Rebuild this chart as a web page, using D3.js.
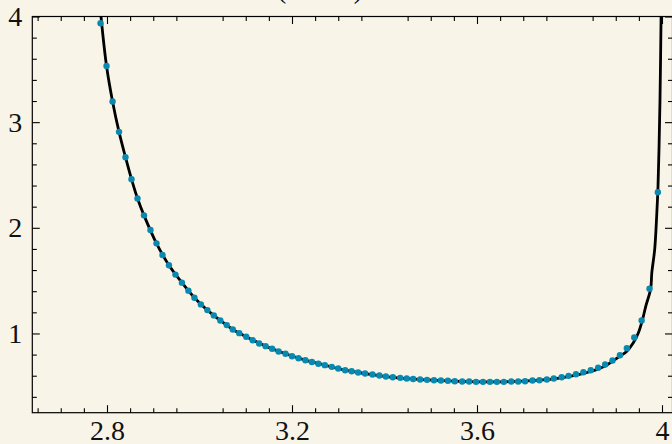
<!doctype html>
<html>
<head>
    <style>
        body { margin: 0; background: #f8f5e8; }
        svg { display: block; background: #f8f5e8; }
        .tick text { font-family: "Liberation Serif", "DejaVu Serif", serif; font-size: 28px; fill: #111; }
        .tick line { stroke: #000; stroke-width: 1.1; }
    </style>
    <script src="https://cdn.jsdelivr.net/npm/d3@7"></script>
</head>
<body>
    <svg width="672" height="444"></svg>
    <script>
        // sampled points (blue dots)
        var dotX = [2.786, 2.799, 2.812, 2.826, 2.840, 2.853, 2.866, 2.880, 2.894, 2.907,
                    2.920, 2.934, 2.948, 2.962, 2.976, 2.989, 3.003, 3.017, 3.031, 3.045,
                    3.059, 3.072, 3.086, 3.101, 3.115, 3.129, 3.143, 3.157, 3.171, 3.186,
                    3.200, 3.214, 3.229, 3.243, 3.257, 3.271, 3.286, 3.300, 3.315, 3.329,
                    3.343, 3.358, 3.374, 3.389, 3.403, 3.418, 3.434, 3.448, 3.462, 3.477,
                    3.492, 3.507, 3.522, 3.537, 3.552, 3.568, 3.583, 3.598, 3.613, 3.628,
                    3.643, 3.658, 3.674, 3.689, 3.704, 3.720, 3.735, 3.751, 3.766, 3.783,
                    3.798, 3.814, 3.830, 3.846, 3.862, 3.877, 3.893, 3.909, 3.924, 3.940,
                    3.956, 3.973, 3.991];
        var dotY = [3.936, 3.531, 3.196, 2.908, 2.668, 2.460, 2.277, 2.118, 1.979, 1.853,
                    1.742, 1.645, 1.557, 1.481, 1.405, 1.338, 1.275, 1.221, 1.171, 1.123,
                    1.079, 1.038, 1.003, 0.969, 0.936, 0.905, 0.880, 0.855, 0.829, 0.808,
                    0.785, 0.766, 0.747, 0.730, 0.714, 0.700, 0.684, 0.668, 0.652, 0.643,
                    0.630, 0.621, 0.611, 0.602, 0.592, 0.586, 0.580, 0.573, 0.569, 0.564,
                    0.561, 0.557, 0.555, 0.552, 0.548, 0.545, 0.545, 0.542, 0.542, 0.542,
                    0.542, 0.542, 0.545, 0.545, 0.548, 0.555, 0.557, 0.564, 0.573, 0.586,
                    0.599, 0.614, 0.633, 0.652, 0.675, 0.706, 0.744, 0.794, 0.861, 0.962,
                    1.123, 1.424, 2.336];

        // black curve
        var lineX = [2.787, 2.799, 2.812, 2.826, 2.840, 2.853, 2.866, 2.880, 2.907, 2.934,
                     2.962, 2.989, 3.017, 3.045, 3.072, 3.101, 3.143, 3.186, 3.229, 3.271,
                     3.315, 3.358, 3.403, 3.448, 3.492, 3.537, 3.583, 3.628, 3.674, 3.720,
                     3.766, 3.814, 3.846, 3.877, 3.909, 3.924, 3.938, 3.949, 3.958, 3.965,
                     3.9755, 3.978, 3.9842, 3.9885, 3.9914, 3.9935, 3.9957, 3.998];
        var lineY = [4.0, 3.531, 3.196, 2.908, 2.668, 2.460, 2.277, 2.118, 1.853, 1.645,
                     1.481, 1.338, 1.221, 1.123, 1.038, 0.969, 0.880, 0.808, 0.747, 0.700,
                     0.652, 0.621, 0.592, 0.573, 0.561, 0.552, 0.545, 0.542, 0.544, 0.553,
                     0.570, 0.606, 0.640, 0.692, 0.785, 0.832, 0.912, 1.007, 1.133, 1.259,
                     1.424, 1.575, 1.796, 2.112, 2.396, 2.744, 3.218, 4.0];

        var xTicks = [2.8, 3.2, 3.6, 4.0];
        var xTickLabels = ["2.8", "3.2", "3.6", "4"];
        var yTicks = [1, 2, 3, 4];
        var yTickLabels = ["1", "2", "3", "4"];

        var svg = d3.select("svg");
        var pLeft = 32.3, pRight = 672.5, pTop = 16.5, pBottom = 412.7;

        var x = d3.scaleLinear().domain([2.6385, 4.0227]).range([pLeft, pRight]);
        var y = d3.scaleLinear().domain([0.25, 4.0]).range([pBottom, pTop]);

        var xMinor = d3.range(2.65, 4.02, 0.05).filter(function(v) {
            return Math.abs(v / 0.2 - Math.round(v / 0.2)) > 0.01;
        });
        var yMinor = d3.range(0.4, 4.0, 0.2).filter(function(v) {
            return Math.abs(v - Math.round(v)) > 0.01;
        });

        // title (mostly above the visible area)
        svg.append("text")
           .attr("x", 320)
           .attr("y", -2)
           .attr("text-anchor", "middle")
           .attr("font-family", "Liberation Serif, serif")
           .attr("font-size", "27px")
           .text("(E vs k)");

        svg.append("clipPath").attr("id", "clip")
           .append("rect")
           .attr("x", pLeft).attr("y", pTop)
           .attr("width", pRight - pLeft).attr("height", pBottom - pTop);

        var line = d3.line()
            .x(function(d) { return x(d[0]); })
            .y(function(d) { return y(d[1]); })
            .curve(d3.curveCatmullRom);

        svg.append("path")
           .datum(lineX.map(function(v, i) { return [v, lineY[i]]; }))
           .attr("clip-path", "url(#clip)")
           .attr("fill", "none")
           .attr("stroke", "#000")
           .attr("stroke-width", 2.8)
           .attr("d", line);

        svg.append("g")
           .attr("clip-path", "url(#clip)")
           .selectAll("circle")
           .data(dotX)
           .enter().append("circle")
           .attr("cx", function(d) { return x(d); })
           .attr("cy", function(d, i) { return y(dotY[i]); })
           .attr("r", 3.2)
           .attr("fill", "#0a89b0");

        // axes, ticks pointing inward on all four sides
        function addAxis(axis, tr) {
            var g = svg.append("g").attr("transform", tr).call(axis);
            g.select(".domain").remove();
            return g;
        }

        addAxis(d3.axisBottom(x).tickValues(xTicks).tickSize(-7.5).tickPadding(7)
                .tickFormat(function(d, i) { return xTickLabels[i]; }), "translate(0," + pBottom + ")");
        addAxis(d3.axisBottom(x).tickValues(xMinor).tickSize(-4.5).tickFormat(""), "translate(0," + pBottom + ")");
        addAxis(d3.axisTop(x).tickValues(xTicks).tickSize(-7.5).tickFormat(""), "translate(0," + pTop + ")");
        addAxis(d3.axisTop(x).tickValues(xMinor).tickSize(-4.5).tickFormat(""), "translate(0," + pTop + ")");

        addAxis(d3.axisLeft(y).tickValues(yTicks).tickSize(-7.5).tickPadding(10)
                .tickFormat(function(d, i) { return yTickLabels[i]; }), "translate(" + pLeft + ",0)");
        addAxis(d3.axisLeft(y).tickValues(yMinor).tickSize(-4.5).tickFormat(""), "translate(" + pLeft + ",0)");
        addAxis(d3.axisRight(y).tickValues(yTicks).tickSize(-7.5).tickFormat(""), "translate(" + pRight + ",0)");
        addAxis(d3.axisRight(y).tickValues(yMinor).tickSize(-4.5).tickFormat(""), "translate(" + pRight + ",0)");

        svg.append("rect")
           .attr("x", pLeft).attr("y", pTop)
           .attr("width", pRight - pLeft).attr("height", pBottom - pTop)
           .attr("fill", "none")
           .attr("stroke", "#000")
           .attr("stroke-width", 1.2);
    </script>
</body>
</html>
